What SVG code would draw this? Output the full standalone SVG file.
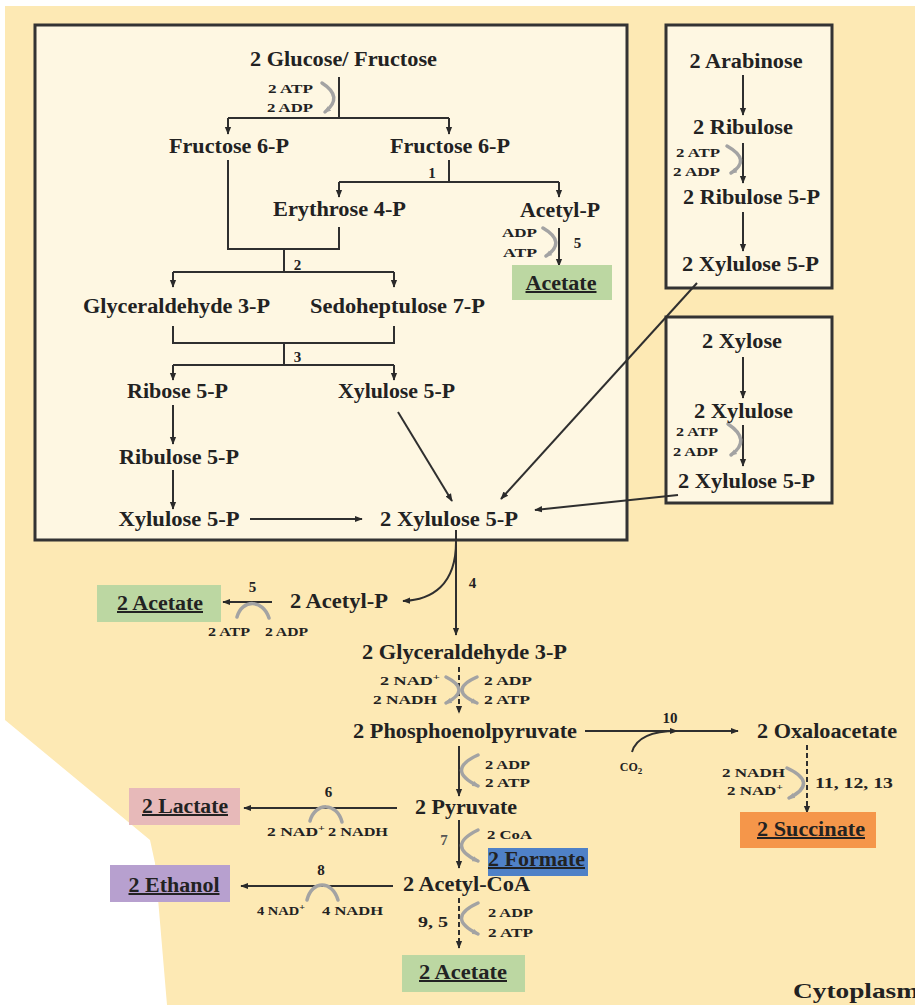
<svg xmlns="http://www.w3.org/2000/svg" width="915" height="1005" viewBox="0 0 915 1005">
<style>
.t{font-family:"Liberation Serif","Times New Roman",serif;font-weight:bold;font-size:20px;fill:#222;text-anchor:middle}
.s{font-size:13px}
.n{font-size:15px}
.u{text-decoration:underline}
.ln{stroke:#2f2f2f;stroke-width:2;fill:none}
.ds{stroke:#2f2f2f;stroke-width:2;fill:none;stroke-dasharray:5,3}
.g{stroke:#a3a3a3;stroke-width:3.5;fill:none;stroke-linecap:round}
.box{fill:#fef7e2;stroke:#333;stroke-width:3}
</style>
<defs>
<marker id="ah" viewBox="0 0 10 10" refX="9" refY="5" markerWidth="8" markerHeight="8" orient="auto" markerUnits="userSpaceOnUse"><path d="M0,1 L10,5 L0,9 z" fill="#2a2a2a"/></marker>
<marker id="gh" viewBox="0 0 10 10" refX="8" refY="5" markerWidth="7" markerHeight="7" orient="auto" markerUnits="userSpaceOnUse"><path d="M0,1 L10,5 L0,9 z" fill="#a3a3a3"/></marker>
</defs>
<rect width="915" height="1005" fill="#ffffff"/>
<path d="M5,6 H915 V1005 H167 L155,863 L150,840 L5,720 Z" fill="#fde9b4"/>
<g id="box-main"><rect class="box" x="35" y="25" width="592" height="515"/></g>
<g id="box-arabinose"><rect class="box" x="666" y="25" width="166" height="263"/></g>
<g id="box-xylose"><rect class="box" x="666" y="317" width="166" height="186"/></g>

<g id="connectors">
<path class="ln" d="M339,77 V118"/>
<path class="ln" d="M228,118 H449"/>
<path class="ln" d="M228,118 V134" marker-end="url(#ah)"/>
<path class="ln" d="M449,118 V134" marker-end="url(#ah)"/>
<path class="g" d="M322,83 Q344,97 325,112" marker-end="url(#gh)"/>
<path class="ln" d="M449,160 V182 M339,182 H559"/>
<path class="ln" d="M339,182 V197" marker-end="url(#ah)"/>
<path class="ln" d="M559,182 V197" marker-end="url(#ah)"/>
<path class="ln" d="M559,228 V266" marker-end="url(#ah)"/>
<path class="g" d="M543,228 Q567,242 546,256" marker-end="url(#gh)"/>
<path class="ln" d="M228,160 V249 H339 V227"/>
<path class="ln" d="M284,249 V272 M173,272 H394"/>
<path class="ln" d="M173,272 V287" marker-end="url(#ah)"/>
<path class="ln" d="M394,272 V287" marker-end="url(#ah)"/>
<path class="ln" d="M173,326 V343 H394 V326"/>
<path class="ln" d="M284,343 V365 M173,365 H394"/>
<path class="ln" d="M173,365 V380" marker-end="url(#ah)"/>
<path class="ln" d="M394,365 V380" marker-end="url(#ah)"/>
<path class="ln" d="M173,405 V444" marker-end="url(#ah)"/>
<path class="ln" d="M173,470 V509" marker-end="url(#ah)"/>
<path class="ln" d="M250,519 H362" marker-end="url(#ah)"/>
<path class="ln" d="M398,412 L452,501" marker-end="url(#ah)"/>
<path class="ln" d="M697,283 L501,499" marker-end="url(#ah)"/>
<path class="ln" d="M678,495 L535,510" marker-end="url(#ah)"/>
<path class="ln" d="M743,75 V115" marker-end="url(#ah)"/>
<path class="ln" d="M743,143 V183" marker-end="url(#ah)"/>
<path class="g" d="M727,146 Q752,160 731,173" marker-end="url(#gh)"/>
<path class="ln" d="M743,212 V251" marker-end="url(#ah)"/>
<path class="ln" d="M743,357 V398" marker-end="url(#ah)"/>
<path class="ln" d="M743,425 V466" marker-end="url(#ah)"/>
<path class="g" d="M728,424 Q752,440 731,455" marker-end="url(#gh)"/>
<path class="ln" d="M456,530 V635" marker-end="url(#ah)"/>
<path class="ln" d="M456,542 C456,585 432,600 403,601" marker-end="url(#ah)"/>
<path class="ln" d="M272,602 H223" marker-end="url(#ah)"/>
<path class="g" d="M237,617 C242,599 263,599 269,618"/>
<path class="ds" d="M459,667 V713" marker-end="url(#ah)"/>
<path class="g" d="M446,677 Q472,690 446,703" marker-end="url(#gh)"/>
<path class="g" d="M477,677 Q447,690 477,703" marker-end="url(#gh)"/>
<path class="ln" d="M585,731 H738" marker-end="url(#ah)"/>
<path class="ln" d="M632,752 C636,738 650,731 677,731" marker-end="url(#ah)"/>
<path class="ds" d="M807,745 V813" marker-end="url(#ah)"/>
<path class="g" d="M787,768 Q819,783 789,798" marker-end="url(#gh)"/>
<path class="ln" d="M459,746 V796" marker-end="url(#ah)"/>
<path class="g" d="M478,755 Q445,770 478,786" marker-end="url(#gh)"/>
<path class="ln" d="M397,808 H244" marker-end="url(#ah)"/>
<path class="g" d="M310,821 C315,802 337,802 342,822"/>
<path class="ln" d="M459,820 V868" marker-end="url(#ah)"/>
<path class="g" d="M478,830 Q445,846 478,861" marker-end="url(#gh)"/>
<path class="ln" d="M393,886 H241" marker-end="url(#ah)"/>
<path class="g" d="M307,900 C312,880 332,880 338,900"/>
<path class="ds" d="M459,898 V948" marker-end="url(#ah)"/>
<path class="g" d="M478,903 Q445,918 478,934" marker-end="url(#gh)"/>
</g>

<g id="n-glucose"><text class="t" x="343.5" y="66" textLength="187" lengthAdjust="spacingAndGlyphs">2 Glucose/ Fructose</text>
<text class="t s" x="290.5" y="93" textLength="45" lengthAdjust="spacingAndGlyphs">2 ATP</text>
<text class="t s" x="290" y="112" textLength="46" lengthAdjust="spacingAndGlyphs">2 ADP</text></g>
<g id="n-f6p-l"><text class="t" x="229" y="153" textLength="120" lengthAdjust="spacingAndGlyphs">Fructose 6-P</text></g>
<g id="n-f6p-r"><text class="t" x="450" y="153" textLength="120" lengthAdjust="spacingAndGlyphs">Fructose 6-P</text>
<text class="t n" x="432" y="178">1</text></g>
<g id="n-e4p"><text class="t" x="339.5" y="216" textLength="133" lengthAdjust="spacingAndGlyphs">Erythrose 4-P</text>
<text class="t n" x="297.5" y="270">2</text></g>
<g id="n-acetylp"><text class="t" x="560" y="217" textLength="80" lengthAdjust="spacingAndGlyphs">Acetyl-P</text>
<text class="t s" x="519.5" y="237" textLength="35" lengthAdjust="spacingAndGlyphs">ADP</text>
<text class="t s" x="520" y="257" textLength="34" lengthAdjust="spacingAndGlyphs">ATP</text>
<text class="t n" x="577.5" y="248">5</text></g>
<g id="n-acetate1"><rect x="512" y="265" width="100" height="35" fill="#bcd7a2"/>
<text class="t u" x="561" y="290" textLength="71" lengthAdjust="spacingAndGlyphs">Acetate</text></g>
<g id="n-ga3p"><text class="t" x="176.5" y="313" textLength="187" lengthAdjust="spacingAndGlyphs">Glyceraldehyde 3-P</text></g>
<g id="n-s7p"><text class="t" x="397.5" y="313" textLength="175" lengthAdjust="spacingAndGlyphs">Sedoheptulose 7-P</text>
<text class="t n" x="297.5" y="362">3</text></g>
<g id="n-r5p"><text class="t" x="177.5" y="398" textLength="101" lengthAdjust="spacingAndGlyphs">Ribose 5-P</text></g>
<g id="n-x5p-u"><text class="t" x="396.5" y="398" textLength="117" lengthAdjust="spacingAndGlyphs">Xylulose 5-P</text></g>
<g id="n-ru5p"><text class="t" x="179" y="464" textLength="120" lengthAdjust="spacingAndGlyphs">Ribulose 5-P</text></g>
<g id="n-x5p-l"><text class="t" x="179" y="526" textLength="121" lengthAdjust="spacingAndGlyphs">Xylulose 5-P</text></g>
<g id="n-x5p-2"><text class="t" x="449" y="526" textLength="138" lengthAdjust="spacingAndGlyphs">2 Xylulose 5-P</text></g>

<g id="n-arabinose"><text class="t" x="746" y="68" textLength="113" lengthAdjust="spacingAndGlyphs">2 Arabinose</text></g>
<g id="n-ribulose"><text class="t" x="743" y="134" textLength="100" lengthAdjust="spacingAndGlyphs">2 Ribulose</text>
<text class="t s" x="698" y="157" textLength="44" lengthAdjust="spacingAndGlyphs">2 ATP</text>
<text class="t s" x="696.5" y="176" textLength="47" lengthAdjust="spacingAndGlyphs">2 ADP</text></g>
<g id="n-ribulose5p"><text class="t" x="751.5" y="204" textLength="137" lengthAdjust="spacingAndGlyphs">2 Ribulose 5-P</text></g>
<g id="n-xu5p-a"><text class="t" x="750.5" y="271" textLength="137" lengthAdjust="spacingAndGlyphs">2 Xylulose 5-P</text></g>
<g id="n-xylose"><text class="t" x="742" y="348" textLength="80" lengthAdjust="spacingAndGlyphs">2 Xylose</text></g>
<g id="n-xylulose"><text class="t" x="743.5" y="418" textLength="99" lengthAdjust="spacingAndGlyphs">2 Xylulose</text>
<text class="t s" x="697" y="436" textLength="42" lengthAdjust="spacingAndGlyphs">2 ATP</text>
<text class="t s" x="695.5" y="456" textLength="45" lengthAdjust="spacingAndGlyphs">2 ADP</text></g>
<g id="n-xu5p-x"><text class="t" x="746.5" y="488" textLength="137" lengthAdjust="spacingAndGlyphs">2 Xylulose 5-P</text></g>

<g id="n-acetylp2"><text class="t" x="339" y="608" textLength="98" lengthAdjust="spacingAndGlyphs">2 Acetyl-P</text>
<text class="t n" x="472.5" y="588">4</text>
<text class="t n" x="252.5" y="592">5</text>
<text class="t s" x="229" y="636" textLength="42" lengthAdjust="spacingAndGlyphs">2 ATP</text>
<text class="t s" x="286.5" y="636" textLength="43" lengthAdjust="spacingAndGlyphs">2 ADP</text></g>
<g id="n-acetate2"><rect x="97" y="585" width="124" height="37" fill="#bcd7a2"/>
<text class="t u" x="160" y="610" textLength="86" lengthAdjust="spacingAndGlyphs">2 Acetate</text></g>
<g id="n-ga3p2"><text class="t" x="464.5" y="659" textLength="205" lengthAdjust="spacingAndGlyphs">2 Glyceraldehyde 3-P</text>
<text class="t s" x="410" y="685" textLength="60" lengthAdjust="spacingAndGlyphs">2 NAD<tspan style="font-size:9px" dy="-5">+</tspan></text>
<text class="t s" x="405" y="704" textLength="64" lengthAdjust="spacingAndGlyphs">2 NADH</text>
<text class="t s" x="508" y="685" textLength="48" lengthAdjust="spacingAndGlyphs">2 ADP</text>
<text class="t s" x="507" y="704" textLength="46" lengthAdjust="spacingAndGlyphs">2 ATP</text></g>
<g id="n-pep"><text class="t" x="465" y="738" textLength="224" lengthAdjust="spacingAndGlyphs">2 Phosphoenolpyruvate</text>
<text class="t n" x="670" y="723">10</text>
<text class="t" x="631" y="771" style="font-size:12px">CO<tspan style="font-size:9px" dy="3">2</tspan></text>
<text class="t s" x="507.5" y="769" textLength="45" lengthAdjust="spacingAndGlyphs">2 ADP</text>
<text class="t s" x="507.5" y="787" textLength="45" lengthAdjust="spacingAndGlyphs">2 ATP</text></g>
<g id="n-oaa"><text class="t" x="827" y="738" textLength="140" lengthAdjust="spacingAndGlyphs">2 Oxaloacetate</text>
<text class="t s" x="753.5" y="777" textLength="63" lengthAdjust="spacingAndGlyphs">2 NADH</text>
<text class="t s" x="755" y="795" textLength="56" lengthAdjust="spacingAndGlyphs">2 NAD<tspan style="font-size:9px" dy="-5">+</tspan></text>
<text class="t n" x="854" y="788" textLength="78" lengthAdjust="spacingAndGlyphs">11, 12, 13</text></g>
<g id="n-succinate"><rect x="740" y="812" width="136" height="36" fill="#f5964a"/>
<text class="t u" x="811" y="836" textLength="108" lengthAdjust="spacingAndGlyphs">2 Succinate</text></g>
<g id="n-pyruvate"><text class="t" x="466" y="814" textLength="102" lengthAdjust="spacingAndGlyphs">2 Pyruvate</text>
<text class="t n" x="328.5" y="797">6</text>
<text class="t s" x="296" y="836" textLength="58" lengthAdjust="spacingAndGlyphs">2 NAD<tspan style="font-size:9px" dy="-5">+</tspan></text>
<text class="t s" x="358" y="836" textLength="60" lengthAdjust="spacingAndGlyphs">2 NADH</text>
<text class="t n" x="444" y="845" style="fill:#555">7</text>
<text class="t s" x="509.5" y="839" textLength="45" lengthAdjust="spacingAndGlyphs">2 CoA</text></g>
<g id="n-lactate"><rect x="129" y="788" width="111" height="37" fill="#e7b9b9"/>
<text class="t u" x="185" y="813" textLength="86" lengthAdjust="spacingAndGlyphs">2 Lactate</text></g>
<g id="n-formate"><rect x="488" y="848" width="100" height="28" fill="#4f81c7"/>
<text class="t u" x="536.5" y="866" textLength="97" lengthAdjust="spacingAndGlyphs">2 Formate</text></g>
<g id="n-acetylcoa"><text class="t" x="466.5" y="891" textLength="127" lengthAdjust="spacingAndGlyphs">2 Acetyl-CoA</text>
<text class="t n" x="321" y="875">8</text>
<text class="t s" x="281" y="915" textLength="48" lengthAdjust="spacingAndGlyphs">4 NAD<tspan style="font-size:9px" dy="-5">+</tspan></text>
<text class="t s" x="352.5" y="915" textLength="61" lengthAdjust="spacingAndGlyphs">4 NADH</text>
<text class="t n" x="433" y="927" textLength="30" lengthAdjust="spacingAndGlyphs">9, 5</text>
<text class="t s" x="510.5" y="917" textLength="45" lengthAdjust="spacingAndGlyphs">2 ADP</text>
<text class="t s" x="510.5" y="937" textLength="45" lengthAdjust="spacingAndGlyphs">2 ATP</text></g>
<g id="n-ethanol"><rect x="110" y="865" width="120" height="37" fill="#b7a0cf"/>
<text class="t u" x="174" y="892" textLength="91" lengthAdjust="spacingAndGlyphs">2 Ethanol</text></g>
<g id="n-acetate3"><rect x="402" y="955" width="123" height="37" fill="#bcd7a2"/>
<text class="t u" x="463" y="979" textLength="88" lengthAdjust="spacingAndGlyphs">2 Acetate</text></g>
<g id="n-cytoplasm"><text class="t" x="793" y="998" style="font-size:22px;text-anchor:start" textLength="126" lengthAdjust="spacingAndGlyphs">Cytoplasm</text></g>
</svg>
